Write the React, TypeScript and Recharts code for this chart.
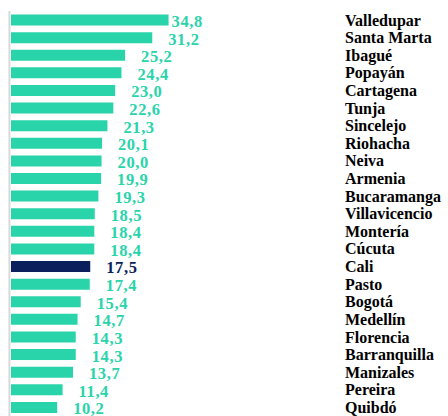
import { BarChart, Bar, XAxis, YAxis, Cell, LabelList, ReferenceLine } from 'recharts';

// Ciudades y valores (orden del gráfico, de arriba hacia abajo)
const cities = [
  'Valledupar', 'Santa Marta', 'Ibagué', 'Popayán', 'Cartagena', 'Tunja', 'Sincelejo',
  'Riohacha', 'Neiva', 'Armenia', 'Bucaramanga', 'Villavicencio', 'Montería', 'Cúcuta',
  'Cali', 'Pasto', 'Bogotá', 'Medellín', 'Florencia', 'Barranquilla', 'Manizales',
  'Pereira', 'Quibdó',
];

const values = [
  34.8, 31.2, 25.2, 24.4, 23.0, 22.6, 21.3,
  20.1, 20.0, 19.9, 19.3, 18.5, 18.4, 18.4,
  17.5, 17.4, 15.4, 14.7, 14.3, 14.3, 13.7,
  11.4, 10.2,
];

const highlighted = 'Cali';

const TEAL = '#2AD4AA';
const NAVY = '#0B1F5C';
const FONT = '"Liberation Serif", "Times New Roman", serif';

const data = cities.map((name, i) => ({ name, value: values[i] }));

const fmt = (v: number) => v.toFixed(1).replace('.', ',');

function ValueLabel(props: any) {
  const { x, y, width, height, value, index } = props;
  const isCali = data[index]?.name === highlighted;
  // el primer rótulo va pegado a la barra, los demás un poco separados
  const gap = index === 0 ? 3 : 16;
  return (
    <text
      x={Number(x) + Number(width) + gap}
      y={Number(y) + Number(height) / 2}
      dy="0.42em"
      fill={isCali ? NAVY : TEAL}
      fontFamily={FONT}
      fontWeight="bold"
      fontSize={16.5}
      letterSpacing={0.6}
    >
      {fmt(Number(value))}
    </text>
  );
}

function CityTick(props: any) {
  const { x, y, payload } = props;
  return (
    <text
      x={x}
      y={y}
      dy="0.36em"
      textAnchor="start"
      fill="#000"
      fontFamily={FONT}
      fontWeight="bold"
      fontSize={16}
    >
      {payload.value}
    </text>
  );
}

export default function App() {
  return (
    <div style={{ position: 'absolute', left: 0, top: 0, width: 448, height: 416, background: '#fff' }}>
      <BarChart
        width={448}
        height={416}
        data={data}
        layout="vertical"
        margin={{ top: 11, right: 0, bottom: 0, left: 11 }}
        barCategoryGap="20%"
      >
        <XAxis type="number" domain={[0, 72]} hide />
        <YAxis
          type="category"
          dataKey="name"
          orientation="right"
          width={111}
          axisLine={false}
          tickLine={false}
          interval={0}
          tick={<CityTick />}
        />
        <ReferenceLine x={-0.35} ifOverflow="visible" stroke="#D9D9D9" strokeWidth={2} />
        <Bar dataKey="value" isAnimationActive={false}>
          {data.map((d) => (
            <Cell key={d.name} fill={d.name === highlighted ? NAVY : TEAL} />
          ))}
          <LabelList dataKey="value" content={<ValueLabel />} />
        </Bar>
      </BarChart>
    </div>
  );
}
